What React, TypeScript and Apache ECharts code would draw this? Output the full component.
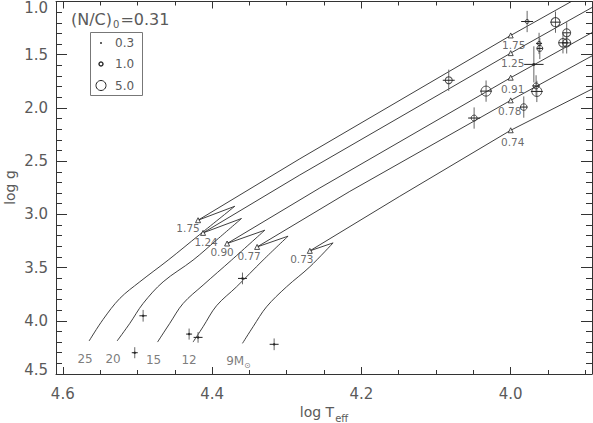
import React, { useEffect, useRef } from 'react';
import * as echarts from 'echarts';

// ---------- data ----------
const masses = ['25', '20', '15', '12', '9'];

// evolutionary tracks [log Teff, log g]
const track25 = [[4.5648, 4.19], [4.546, 3.987], [4.5236, 3.79], [4.4969, 3.634], [4.4589, 3.43], [4.4165, 3.189], [4.3696, 2.924], [4.4188, 3.055], [4.2825, 2.478], [4.0, 1.319], [3.89, 0.887]];
const track20 = [[4.5273, 4.19], [4.5102, 4.024], [4.4924, 3.837], [4.4656, 3.634], [4.4255, 3.43], [4.3937, 3.239], [4.3606, 3.039], [4.4121, 3.174], [4.2825, 2.63], [4.0, 1.485], [3.89, 1.052]];
const track15 = [[4.4731, 4.2], [4.4567, 4.024], [4.4388, 3.837], [4.4121, 3.665], [4.374, 3.43], [4.3294, 3.149], [4.3799, 3.274], [4.2557, 2.752], [4.0, 1.716], [3.89, 1.288]];
const track12 = [[4.4255, 4.2], [4.4121, 4.056], [4.3941, 3.859], [4.3673, 3.681], [4.3317, 3.43], [4.2982, 3.205], [4.3397, 3.306], [4.2155, 2.784], [4.0, 1.929], [3.89, 1.507]];
const track9 = [[4.3593, 4.212], [4.3451, 4.056], [4.3271, 3.869], [4.3003, 3.681], [4.2691, 3.493], [4.2379, 3.268], [4.2691, 3.343], [4.1486, 2.83], [4.0, 2.21], [3.89, 1.819]];

// N/C markers along the tracks
const tamsMarks = [[4.4188, 3.055], [4.4121, 3.174], [4.3799, 3.274], [4.3397, 3.306], [4.2691, 3.343]];
const tamsNC = ['1.75', '1.24', '0.90', '0.77', '0.73'];
const t40Marks = [[4.0, 1.319], [4.0, 1.485], [4.0, 1.716], [4.0, 1.929], [4.0, 2.21]];
const t40NC = ['1.75', '1.25', '0.91', '0.78', '0.74'];

// stars with N/C measurement (circle size)
const starT = [4.083, 4.049, 4.033, 3.978, 3.969, 3.966, 3.965, 3.962, 3.961, 3.94, 3.925, 3.93, 3.925, 3.9825];
const starG = [1.74, 2.095, 1.842, 1.188, 1.591, 1.793, 1.845, 1.394, 1.441, 1.194, 1.294, 1.388, 1.389, 1.992];
const starNC = [2.7, 2.0, 5.0, 1.0, 0.3, 2.0, 5.0, 1.0, 2.0, 4.2, 3.4, 3.8, 3.4, 2.4];
const starErrT = [0.008, 0.008, 0.008, 0.008, 0.013, 0.005, 0.008, 0.004, 0.004, 0.007, 0.005, 0.006, 0.006, 0.005];
const starErrG = [0.1, 0.1, 0.1, 0.1, 0.17, 0.1, 0.1, 0.1, 0.1, 0.1, 0.1, 0.1, 0.1, 0.1];

// stars without N/C measurement
const plainT = [4.4924, 4.5036, 4.4308, 4.4188, 4.3593, 4.3169];
const plainG = [3.953, 4.3, 4.125, 4.156, 3.602, 4.221];
const plainErrT = [0.005, 0.004, 0.004, 0.006, 0.006, 0.006];
const plainErrG = [0.055, 0.052, 0.052, 0.05, 0.055, 0.055];

const legendValues = [0.3, 1.0, 5.0];
const xMajor = [4.0, 4.2, 4.4, 4.6];

// ---------- layout / style ----------
const FONT = "'DejaVu Sans', sans-serif";
const TXT = '#5a5a5a';
const AX = '#333';
const XMIN = 3.8911;
const XMAX = 4.6091;
const tamsLabelOffset = [[-10, 8], [3, 9], [-5, 8], [-8, 9], [-8, 8]];
const t40LabelOffset = [[3, 10], [2, 10], [2, 11], [-1, 11], [2, 12]];

const radius = (v: number) => 2 * Math.pow(v, 0.57);

const xMinor: number[] = [];
for (let k = 78; k <= 92; k++) {
  const v = Math.round(k * 5) / 100;
  if (Math.abs(v * 5 - Math.round(v * 5)) > 1e-6 && v > XMIN && v < XMAX) xMinor.push(v);
}

const tracks = [track25, track20, track15, track12, track9];

// index of the main-sequence end (coolest point before the hook)
function tipIndex(t: number[][]) {
  for (let i = 0; i < t.length - 1; i++) if (t[i + 1][0] > t[i][0]) return i;
  return t.length - 1;
}

function errBars(stroke: string) {
  return (params: any, api: any) => {
    const T = api.value(0), g = api.value(1), eT = api.value(2), eG = api.value(3);
    const a = api.coord([T - eT, g]);
    const b = api.coord([T + eT, g]);
    const c = api.coord([T, g - eG]);
    const d = api.coord([T, g + eG]);
    return {
      type: 'group',
      children: [
        { type: 'line', shape: { x1: c[0], y1: c[1], x2: d[0], y2: d[1] }, style: { stroke: '#666', lineWidth: 1 } },
        { type: 'line', shape: { x1: a[0], y1: a[1], x2: b[0], y2: b[1] }, style: { stroke, lineWidth: 1 } },
      ],
    };
  };
}

export default function App() {
  const ref = useRef<HTMLDivElement>(null);
  useEffect(() => {
    document.body.style.margin = '0';
    const chart = echarts.init(ref.current!, null, { renderer: 'svg' });

    const xBase = {
      type: 'value', min: XMIN, max: XMAX, inverse: true, splitLine: { show: false },
    };
    const yBase = {
      type: 'value', min: 1.0, max: 4.5, interval: 0.5, inverse: true, splitLine: { show: false },
      axisLine: { show: true, lineStyle: { color: AX, width: 1 } },
      axisTick: { show: true, inside: true, length: 11, lineStyle: { color: AX } },
      minorTick: { show: true, splitNumber: 5, length: 6, lineStyle: { color: AX } },
    };

    const series: any[] = [];
    tracks.forEach((t, i) => {
      const tip = tipIndex(t);
      series.push({
        type: 'line', name: masses[i] + ' Msun MS', data: t.slice(0, tip + 1), symbol: 'none', clip: true,
        smooth: 0.35, lineStyle: { color: '#2a2a2a', width: 0.9 }, z: 2, silent: true,
      });
      series.push({
        type: 'line', name: masses[i] + ' Msun post-MS', data: t.slice(tip), symbol: 'none', clip: true,
        lineStyle: { color: '#2a2a2a', width: 0.9 }, z: 2, silent: true,
      });
    });
    series.push({
      type: 'scatter', symbol: 'triangle', symbolSize: 5, z: 4, silent: true,
      itemStyle: { color: '#fff', borderColor: '#222', borderWidth: 1 },
      label: { show: true, position: 'inside', formatter: '{b}', fontFamily: FONT, fontSize: 10.5, color: '#444' },
      data: [
        ...tamsMarks.map((p, i) => ({ value: p, name: tamsNC[i], label: { offset: tamsLabelOffset[i] } })),
        ...t40Marks.map((p, i) => ({ value: p, name: t40NC[i], label: { offset: t40LabelOffset[i] } })),
      ],
    });
    series.push({
      type: 'scatter', symbolSize: 0.1, z: 4, silent: true,
      itemStyle: { color: 'rgba(0,0,0,0)' },
      label: {
        show: true, position: 'inside', offset: [-4, 18], fontFamily: FONT, fontSize: 12, color: TXT,
        formatter: '{b}',
        rich: { s: { fontFamily: FONT, fontSize: 8, color: TXT, padding: [8, 0, 0, 0] } },
      },
      data: tracks.map((t, i) => ({ value: t[0], name: i === 4 ? masses[i] + 'M{s|⊙}' : masses[i] })),
    });
    series.push({
      type: 'custom', renderItem: errBars('#222'), z: 3, silent: true, encode: { x: 0, y: 1 },
      data: starT.map((T, i) => [T, starG[i], starErrT[i], starErrG[i]]),
    });
    series.push({
      type: 'custom', renderItem: errBars('#222'), z: 3, silent: true, encode: { x: 0, y: 1 },
      data: plainT.map((T, i) => [T, plainG[i], plainErrT[i], plainErrG[i]]),
    });
    series.push({
      type: 'scatter', z: 5, silent: true,
      symbolSize: (v: number[]) => 2 * radius(v[2]),
      itemStyle: { color: 'rgba(255,255,255,0)', borderColor: '#222', borderWidth: 1 },
      data: starT.map((T, i) => [T, starG[i], starNC[i]]),
    });
    series.push({
      type: 'scatter', z: 5, silent: true, symbolSize: 2.5,
      itemStyle: { color: '#222' },
      data: plainT.map((T, i) => [T, plainG[i]]),
    });

    const legendY = [43, 64, 85.5];
    const graphic: any[] = [
      {
        type: 'rect', shape: { x: 90.5, y: 32.5, width: 52, height: 63 },
        style: { fill: 'rgba(255,255,255,0)', stroke: '#777', lineWidth: 1 }, z: 10,
      },
      ...legendValues.map((v, i) => ({
        type: 'circle', shape: { cx: 101, cy: legendY[i], r: radius(v) },
        style: i === 0 ? { fill: '#222' } : { fill: 'none', stroke: '#222', lineWidth: i === 1 ? 1.4 : 1 }, z: 10,
      })),
      ...legendValues.map((v, i) => ({
        type: 'text', x: 115, y: legendY[i],
        style: { text: v.toFixed(1), fontFamily: FONT, fontSize: 12, fill: TXT, verticalAlign: 'middle', align: 'left' }, z: 10,
      })),
      {
        type: 'text', x: 71, y: 19, z: 10,
        style: {
          text: '(N/C){s|0}=0.31', fontFamily: FONT, fontSize: 16, fill: TXT, verticalAlign: 'middle', align: 'left',
          rich: { s: { fontFamily: FONT, fontSize: 10, fill: TXT, padding: [10, 1, 0, 1] } },
        },
      },
      {
        type: 'text', x: 324, y: 412, z: 10,
        style: {
          text: 'log T{s|eff}', fontFamily: FONT, fontSize: 14, fill: TXT, verticalAlign: 'middle', align: 'center',
          rich: { s: { fontFamily: FONT, fontSize: 10, fill: TXT, padding: [12, 0, 0, 1] } },
        },
      },
      {
        type: 'text', x: 10, y: 187.5, rotation: Math.PI / 2, z: 10,
        style: { text: 'log g', fontFamily: FONT, fontSize: 14, fill: TXT, verticalAlign: 'middle', align: 'center' },
      },
    ];

    chart.setOption({
      animation: false,
      backgroundColor: '#fff',
      grid: { left: 56, right: 1, top: 1, bottom: 49, containLabel: false },
      xAxis: [
        {
          ...xBase, position: 'bottom',
          axisLine: { show: true, onZero: false, lineStyle: { color: AX, width: 1 } },
          axisTick: { show: true, inside: true, length: 7, customValues: xMajor, lineStyle: { color: AX } },
          axisLabel: {
            show: true, customValues: xMajor, margin: 12, fontFamily: FONT, fontSize: 15, color: TXT,
            formatter: (v: number) => v.toFixed(1),
          },
        },
        {
          ...xBase, position: 'bottom',
          axisLine: { show: false, onZero: false },
          axisTick: { show: true, inside: true, length: 4, customValues: xMinor, lineStyle: { color: AX } },
          axisLabel: { show: false },
        },
        {
          ...xBase, position: 'top',
          axisLine: { show: true, onZero: false, lineStyle: { color: AX, width: 1 } },
          axisTick: { show: true, inside: true, length: 7, customValues: xMajor, lineStyle: { color: AX } },
          axisLabel: { show: false },
        },
        {
          ...xBase, position: 'top',
          axisLine: { show: false, onZero: false },
          axisTick: { show: true, inside: true, length: 4, customValues: xMinor, lineStyle: { color: AX } },
          axisLabel: { show: false },
        },
      ],
      yAxis: [
        {
          ...yBase, position: 'left',
          axisLabel: {
            show: true, margin: 8, fontFamily: FONT, fontSize: 15, color: TXT,
            formatter: (v: number) => (Math.abs(v - 1) < 1e-6 ? '{t|1.0}' : Math.abs(v - 4.5) < 1e-6 ? '{b|4.5}' : v.toFixed(1)),
            rich: {
              t: { fontFamily: FONT, fontSize: 15, color: TXT, padding: [12, 0, 0, 0] },
              b: { fontFamily: FONT, fontSize: 15, color: TXT, padding: [0, 0, 8, 0] },
            },
          },
        },
        { ...yBase, position: 'right', axisLabel: { show: false } },
      ],
      series,
      graphic,
    });
    return () => chart.dispose();
  }, []);
  return <div ref={ref} style={{ width: 593, height: 423 }} />;
}
